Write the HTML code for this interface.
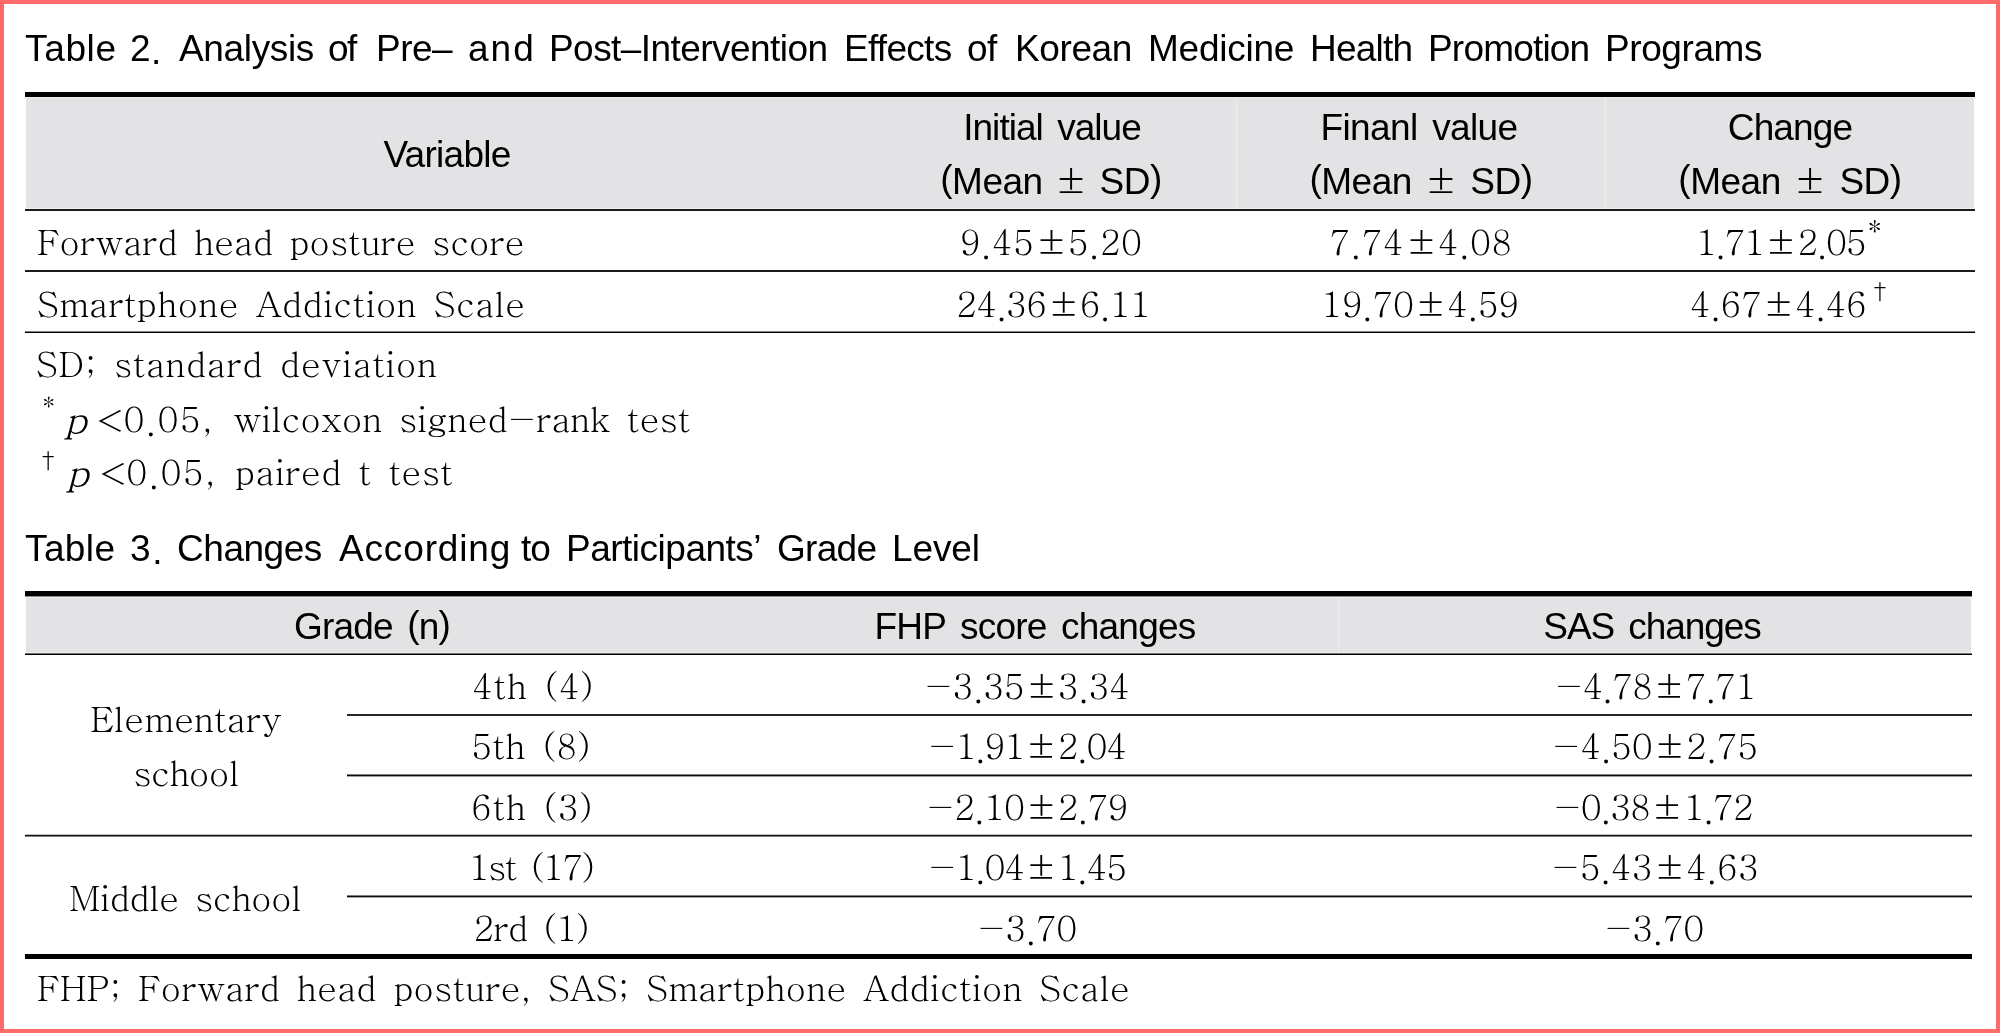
<!DOCTYPE html>
<html lang="en">
<head>
<meta charset="utf-8">
<title>Table 2 and Table 3</title>
<style>
html,body{margin:0;padding:0;background:#fff;}
body{width:2000px;height:1033px;position:relative;overflow:hidden;}
.frame{position:absolute;left:0;top:0;width:2000px;height:1033px;box-sizing:border-box;border:4px solid #ff6a6a;z-index:5;}
.ln{position:absolute;background:#000;}
.hd{position:absolute;background:#e3e3e5;box-sizing:border-box;border-top:1px solid #efefef;border-bottom:1px solid #efefef;}
.vs{position:absolute;width:1px;background:#eeeeee;}
.t{position:absolute;white-space:nowrap;line-height:1;color:#000;will-change:transform;}
.s{font-family:"Liberation Sans",Arial,sans-serif;font-size:37px;}
.r{font-family:"Batang","Noto Serif CJK SC","Liberation Serif",serif;font-size:35px;}
.pl{position:relative;top:-3.3px;}
.pl2{position:relative;top:-2px;}
.pm{position:relative;top:1.3px;font-family:"Batang","Noto Serif CJK SC","Liberation Serif",serif;font-size:36.5px;letter-spacing:0;}
i{font-style:italic;}
.cc{width:600px;text-align:center;}
.su1{position:relative;top:-17px;font-size:30px;letter-spacing:0;margin-left:2px;}
.su2{position:relative;top:-18px;font-size:21px;letter-spacing:0;margin-left:7px;}
.dp{position:relative;top:4px;}
.pmr{margin:0 2px 0 3px;letter-spacing:0;}
.tp{position:relative;top:2.5px;}
.pi{font-size:38.5px;display:inline-block;transform:scaleX(1.05);transform-origin:0 0;}
.lt{display:inline-block;transform:scale(1.36,0.85);transform-origin:0 88%;margin-right:5px;}
</style>
</head>
<body>
<div class="frame"></div>
<!-- Table 2 rules and header band -->
<div class="ln" style="left:25px;top:92px;width:1950px;height:5px;"></div>
<div class="hd" style="left:26px;top:97px;width:1948px;height:112px;"></div>
<div class="vs" style="left:1236px;top:98px;height:110px;"></div>
<div class="vs" style="left:1605px;top:98px;height:110px;"></div>
<div class="ln" style="left:25px;top:209px;width:1950px;height:2px;background:#1c1c1c;"></div>
<div class="ln" style="left:25px;top:270px;width:1950px;height:2px;background:#1c1c1c;"></div>
<div class="ln" style="left:25px;top:331px;width:1950px;height:1px;background:#808080;"></div>
<div class="ln" style="left:25px;top:332px;width:1950px;height:1px;background:#000;"></div>
<!-- Table 3 rules and header band -->
<div class="ln" style="left:25px;top:591px;width:1947px;height:5px;"></div>
<div class="ln" style="left:25px;top:596px;width:1947px;height:1px;background:#8c8c8c;"></div>
<div class="hd" style="left:26px;top:597px;width:1945px;height:56px;"></div>
<div class="vs" style="left:1338px;top:598px;height:54px;"></div>
<div class="ln" style="left:25px;top:653px;width:1947px;height:1px;background:#707070;"></div>
<div class="ln" style="left:25px;top:654px;width:1947px;height:1px;"></div>
<div class="ln" style="left:347px;top:714px;width:1625px;height:2px;background:#262626;"></div>
<div class="ln" style="left:347px;top:774px;width:1625px;height:1px;background:#808080;"></div>
<div class="ln" style="left:347px;top:775px;width:1625px;height:1px;background:#0d0d0d;"></div>
<div class="ln" style="left:347px;top:776px;width:1625px;height:1px;background:#a0a0a0;"></div>
<div class="ln" style="left:25px;top:834px;width:1947px;height:1px;background:#c0c0c0;"></div>
<div class="ln" style="left:25px;top:835px;width:1947px;height:1px;background:#111;"></div>
<div class="ln" style="left:25px;top:836px;width:1947px;height:1px;background:#808080;"></div>
<div class="ln" style="left:347px;top:895px;width:1625px;height:1px;background:#808080;"></div>
<div class="ln" style="left:347px;top:896px;width:1625px;height:1px;background:#0a0a0a;"></div>
<div class="ln" style="left:347px;top:897px;width:1625px;height:1px;background:#aaaaaa;"></div>
<div class="ln" style="left:25px;top:954px;width:1947px;height:5px;"></div>
<!-- Text -->

<div class="t s" id="t2w0" style="left:25.00px;top:30.00px;letter-spacing:0.650px;word-spacing:5.000px;">Table</div>
<div class="t s" id="t2w1" style="left:130.40px;top:30.00px;letter-spacing:0.500px;word-spacing:5.000px;">2<span class="tp">.</span></div>
<div class="t s" id="t2w2" style="left:179.00px;top:30.00px;letter-spacing:-0.357px;word-spacing:5.000px;">Analysis</div>
<div class="t s" id="t2w3" style="left:328.00px;top:30.00px;letter-spacing:-1.500px;word-spacing:5.000px;">of</div>
<div class="t s" id="t2w4" style="left:376.00px;top:30.00px;letter-spacing:-0.500px;word-spacing:5.000px;">Pre–</div>
<div class="t s" id="t2w5" style="left:468.00px;top:30.00px;letter-spacing:2.000px;word-spacing:5.000px;">and</div>
<div class="t s" id="t2w6" style="left:549.00px;top:30.00px;letter-spacing:-0.562px;word-spacing:5.000px;">Post–Intervention</div>
<div class="t s" id="t2w7" style="left:844.00px;top:30.00px;letter-spacing:-0.708px;word-spacing:5.000px;">Effects</div>
<div class="t s" id="t2w8" style="left:967.00px;top:30.00px;letter-spacing:-0.500px;word-spacing:5.000px;">of</div>
<div class="t s" id="t2w9" style="left:1015.00px;top:30.00px;letter-spacing:-0.400px;word-spacing:5.000px;">Korean</div>
<div class="t s" id="t2w10" style="left:1148.00px;top:30.00px;letter-spacing:-0.250px;word-spacing:5.000px;">Medicine</div>
<div class="t s" id="t2w11" style="left:1310.00px;top:30.00px;letter-spacing:-0.760px;word-spacing:5.000px;">Health</div>
<div class="t s" id="t2w12" style="left:1428.00px;top:30.00px;letter-spacing:-0.812px;word-spacing:5.000px;">Promotion</div>
<div class="t s" id="t2w13" style="left:1605.20px;top:30.00px;letter-spacing:-0.414px;word-spacing:5.000px;">Programs</div>
<div class="t s cc" id="variable" style="left:147.00px;top:135.80px;letter-spacing:-0.729px;word-spacing:5.000px;">Variable</div>
<div class="t s cc" id="init" style="left:751.75px;top:109.00px;letter-spacing:-0.958px;word-spacing:5.000px;">Initial value</div>
<div class="t s cc" id="mean1" style="left:751.40px;top:160.50px;letter-spacing:-0.500px;word-spacing:5.000px;"><span class="pl">(</span>Mean<span class="pm" style="margin:0 13.60px">±</span>SD<span class="pl">)</span></div>
<div class="t s cc" id="final" style="left:1118.90px;top:109.00px;letter-spacing:-0.627px;word-spacing:5.000px;">Finanl value</div>
<div class="t s cc" id="mean2" style="left:1120.65px;top:160.50px;letter-spacing:-0.500px;word-spacing:5.000px;"><span class="pl">(</span>Mean<span class="pm" style="margin:0 14.45px">±</span>SD<span class="pl">)</span></div>
<div class="t s cc" id="change" style="left:1489.85px;top:109.00px;letter-spacing:-0.880px;word-spacing:5.000px;">Change</div>
<div class="t s cc" id="mean3" style="left:1489.70px;top:160.50px;letter-spacing:-0.500px;word-spacing:5.000px;"><span class="pl">(</span>Mean<span class="pm" style="margin:0 14.50px">±</span>SD<span class="pl">)</span></div>
<div class="t s" id="t3w0" style="left:25.00px;top:529.80px;letter-spacing:0.375px;word-spacing:5.000px;">Table</div>
<div class="t s" id="t3w1" style="left:130.00px;top:529.80px;letter-spacing:1.750px;word-spacing:5.000px;">3<span class="tp">.</span></div>
<div class="t s" id="t3w2" style="left:177.00px;top:529.80px;letter-spacing:-0.458px;word-spacing:5.000px;">Changes</div>
<div class="t s" id="t3w3" style="left:339.00px;top:529.80px;letter-spacing:0.844px;word-spacing:5.000px;">According</div>
<div class="t s" id="t3w4" style="left:521.00px;top:529.80px;letter-spacing:-1.000px;word-spacing:5.000px;">to</div>
<div class="t s" id="t3w5" style="left:566.00px;top:529.80px;letter-spacing:-0.500px;word-spacing:5.000px;">Participants’</div>
<div class="t s" id="t3w6" style="left:777.00px;top:529.80px;letter-spacing:-0.688px;word-spacing:5.000px;">Grade</div>
<div class="t s" id="t3w7" style="left:892.00px;top:529.80px;letter-spacing:-0.125px;word-spacing:5.000px;">Level</div>
<div class="t s cc" id="grade" style="left:71.60px;top:607.80px;letter-spacing:-0.825px;word-spacing:5.000px;">Grade <span class="pl2">(</span>n<span class="pl2">)</span></div>
<div class="t s cc" id="fhph" style="left:734.70px;top:607.80px;letter-spacing:-0.787px;word-spacing:5.000px;">FHP score changes</div>
<div class="t s cc" id="sash" style="left:1352.35px;top:607.80px;letter-spacing:-1.070px;word-spacing:5.000px;">SAS changes</div>
<div class="t r" id="fwd" style="left:37.00px;top:223.10px;letter-spacing:-0.100px;word-spacing:5.000px;">Forward head posture score</div>
<div class="t r cc" id="v11" style="left:750.85px;top:223.10px;letter-spacing:0.412px;word-spacing:5.000px;">9<span class="dp">.</span>45<span class="pmr">±</span>5<span class="dp">.</span>20</div>
<div class="t r cc" id="v12" style="left:1121.25px;top:223.10px;letter-spacing:0.562px;word-spacing:5.000px;">7<span class="dp">.</span>74<span class="pmr">±</span>4<span class="dp">.</span>08</div>
<div class="t r cc" id="v13" style="left:1488.70px;top:223.10px;letter-spacing:-1.175px;word-spacing:5.000px;">1<span class="dp">.</span>71<span class="pmr">±</span>2<span class="dp">.</span>05<span class="su1">*</span></div>
<div class="t r" id="smart" style="left:37.00px;top:285.00px;letter-spacing:0.290px;word-spacing:5.000px;">Smartphone Addiction Scale</div>
<div class="t r cc" id="v21" style="left:753.00px;top:285.00px;letter-spacing:-0.667px;word-spacing:5.000px;">24<span class="dp">.</span>36<span class="pmr">±</span>6<span class="dp">.</span>11</div>
<div class="t r cc" id="v22" style="left:1119.55px;top:285.00px;letter-spacing:-0.211px;word-spacing:5.000px;">19<span class="dp">.</span>70<span class="pmr">±</span>4<span class="dp">.</span>59</div>
<div class="t r cc" id="v23" style="left:1487.60px;top:285.00px;letter-spacing:-0.275px;word-spacing:5.000px;">4<span class="dp">.</span>67<span class="pmr">±</span>4<span class="dp">.</span>46<span class="su2">†</span></div>
<div class="t r" id="sd" style="left:36.00px;top:345.20px;letter-spacing:0.548px;word-spacing:5.000px;">SD; standard deviation</div>
<div class="t r" id="n2a" style="left:42.00px;top:386.50px;font-size:27px;">*</div>
<div class="t r" id="n2p" style="left:63.80px;top:399.30px;"><i class="pi">p</i></div>
<div class="t r" id="n2b" style="left:95.00px;top:399.80px;letter-spacing:1.500px;word-spacing:5.000px;"><span class="lt">&lt;</span>0<span class="dp">.</span>05,</div>
<div class="t r" id="n2c" style="left:233.40px;top:399.80px;letter-spacing:-0.038px;word-spacing:5.000px;">wilcoxon signed−rank test</div>
<div class="t r" id="n3a" style="left:42.20px;top:449.00px;font-size:21px;">†</div>
<div class="t r" id="n3p" style="left:66.40px;top:451.70px;"><i class="pi">p</i></div>
<div class="t r" id="n3b" style="left:97.60px;top:453.20px;letter-spacing:1.480px;word-spacing:5.000px;"><span class="lt">&lt;</span>0<span class="dp">.</span>05,</div>
<div class="t r" id="n3c" style="left:235.40px;top:453.20px;letter-spacing:0.292px;word-spacing:5.000px;">paired t test</div>
<div class="t r cc" id="elem" style="left:-114.10px;top:700.00px;letter-spacing:0.044px;word-spacing:5.000px;">Elementary</div>
<div class="t r cc" id="school" style="left:-114.30px;top:754.00px;letter-spacing:-0.440px;word-spacing:5.000px;">school</div>
<div class="t r cc" id="middle" style="left:-114.75px;top:878.80px;letter-spacing:-0.392px;word-spacing:5.000px;">Middle school</div>
<div class="t r cc" id="g4" style="left:232.50px;top:666.60px;letter-spacing:0.667px;word-spacing:5.000px;">4th (4)</div>
<div class="t r cc" id="g5" style="left:231.00px;top:727.40px;letter-spacing:0.333px;word-spacing:5.000px;">5th (8)</div>
<div class="t r cc" id="g6" style="left:232.00px;top:787.60px;letter-spacing:0.667px;word-spacing:5.000px;">6th (3)</div>
<div class="t r cc" id="g1" style="left:230.95px;top:848.00px;letter-spacing:-1.414px;word-spacing:5.000px;">1st (17)</div>
<div class="t r cc" id="g2" style="left:230.50px;top:908.80px;letter-spacing:-0.667px;word-spacing:5.000px;">2rd (1)</div>
<div class="t r cc" id="f1" style="left:727.10px;top:666.60px;letter-spacing:-0.244px;word-spacing:5.000px;">−3<span class="dp">.</span>35<span class="pmr">±</span>3<span class="dp">.</span>34</div>
<div class="t r cc" id="f2" style="left:726.55px;top:727.40px;letter-spacing:-1.056px;word-spacing:5.000px;">−1<span class="dp">.</span>91<span class="pmr">±</span>2<span class="dp">.</span>04</div>
<div class="t r cc" id="f3" style="left:726.85px;top:787.60px;letter-spacing:-0.656px;word-spacing:5.000px;">−2<span class="dp">.</span>10<span class="pmr">±</span>2<span class="dp">.</span>79</div>
<div class="t r cc" id="f4" style="left:726.55px;top:848.00px;letter-spacing:-1.056px;word-spacing:5.000px;">−1<span class="dp">.</span>04<span class="pmr">±</span>1<span class="dp">.</span>45</div>
<div class="t r cc" id="f5" style="left:726.95px;top:908.80px;letter-spacing:-0.325px;word-spacing:5.000px;">−3<span class="dp">.</span>70</div>
<div class="t r cc" id="s1" style="left:1355.00px;top:666.60px;letter-spacing:-0.778px;word-spacing:5.000px;">−4<span class="dp">.</span>78<span class="pmr">±</span>7<span class="dp">.</span>71</div>
<div class="t r cc" id="s2" style="left:1354.60px;top:727.40px;letter-spacing:-0.178px;word-spacing:5.000px;">−4<span class="dp">.</span>50<span class="pmr">±</span>2<span class="dp">.</span>75</div>
<div class="t r cc" id="s3" style="left:1353.00px;top:787.60px;letter-spacing:-0.889px;word-spacing:5.000px;">−0<span class="dp">.</span>38<span class="pmr">±</span>1<span class="dp">.</span>72</div>
<div class="t r cc" id="s4" style="left:1354.90px;top:848.00px;letter-spacing:0.000px;word-spacing:5.000px;">−5<span class="dp">.</span>43<span class="pmr">±</span>4<span class="dp">.</span>63</div>
<div class="t r cc" id="s5" style="left:1354.35px;top:908.80px;letter-spacing:-0.325px;word-spacing:5.000px;">−3<span class="dp">.</span>70</div>
<div class="t r" id="foot" style="left:37.00px;top:969.00px;letter-spacing:0.109px;word-spacing:5.000px;">FHP; Forward head posture, SAS; Smartphone Addiction Scale</div>
</body>
</html>
